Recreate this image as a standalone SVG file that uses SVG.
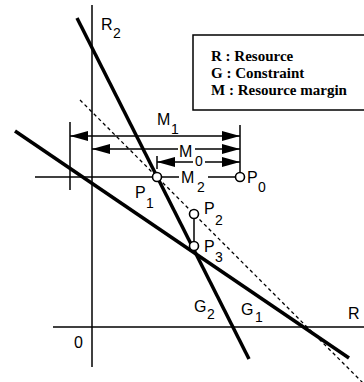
<svg xmlns="http://www.w3.org/2000/svg" width="364" height="382" viewBox="0 0 364 382">
<style>
.ax{stroke:#000;stroke-width:1.5;fill:none}
.g{stroke:#000;stroke-width:3.5;fill:none;stroke-linecap:butt}
.dash{stroke:#000;stroke-width:1.3;fill:none;stroke-dasharray:3.5 3}
.arr{stroke:#000;stroke-width:1.5;fill:none;marker-start:url(#ah);marker-end:url(#ah)}
.pt{fill:#fff;stroke:#000;stroke-width:1.6}
.lb{font-family:"Liberation Sans",Arial,sans-serif;font-size:16px;fill:#000}
.sb{font-family:"Liberation Sans",Arial,sans-serif;font-size:14px;fill:#000}
.lg{font-family:"Liberation Serif","Times New Roman",serif;font-size:15px;font-weight:bold;fill:#000}
.wb{fill:#fff}
</style>
<defs>
<marker id="ah" viewBox="0 0 18 10" refX="18" refY="5" markerWidth="18" markerHeight="10" markerUnits="userSpaceOnUse" orient="auto-start-reverse">
<path d="M0,0 L18,5 L0,10 Z" fill="#000"/>
</marker>
</defs>
<rect width="364" height="382" fill="#fff"/>
<g id="connectors">
<line class="ax" x1="92" y1="5" x2="92" y2="367"/>
<line class="ax" x1="53" y1="327" x2="364" y2="327"/>
<line class="g" x1="77" y1="18" x2="249" y2="359"/>
<line class="g" x1="15" y1="131" x2="349" y2="358"/>
<line class="dash" x1="80" y1="100" x2="364" y2="384"/>
<line class="ax" x1="70" y1="122" x2="70" y2="190"/>
<line class="ax" x1="240" y1="125" x2="240" y2="173"/>
<line class="ax" x1="35" y1="177" x2="237" y2="177"/>
<line class="ax" x1="157" y1="156" x2="157" y2="169"/>
<line class="arr" x1="70" y1="136" x2="240" y2="136"/>
<line class="arr" x1="92" y1="149" x2="240" y2="149"/>
<line class="arr" x1="157" y1="162" x2="240" y2="162"/>
<line class="ax" x1="194" y1="218" x2="194" y2="242"/>
</g>
<g id="legend">
<rect x="193" y="35" width="175" height="75" fill="#fff" stroke="#000" stroke-width="1.5"/>
<text class="lg" x="211" y="61">R : Resource</text>
<text class="lg" x="211" y="78">G : Constraint</text>
<text class="lg" x="211" y="95">M : Resource margin</text>
</g>
<g id="axis-labels">
<text class="lb" x="101" y="30">R</text><text class="sb" x="113" y="38">2</text>
<text class="lb" x="348" y="319">R</text>
<text class="lb" x="74" y="348">0</text>
</g>
<g id="margin-labels">
<g id="M1"><text class="lb" x="157" y="125">M</text><text class="sb" x="171" y="134">1</text></g>
<g id="M0"><rect class="wb" x="178" y="142" width="17" height="12"/><rect class="wb" x="193" y="155" width="12" height="12"/><text class="lb" x="179" y="157">M</text><text class="sb" x="195" y="166">0</text></g>
<g id="M2"><rect class="wb" x="179" y="172" width="29" height="8"/><text class="lb" x="181" y="183">M</text><text class="sb" x="197" y="192">2</text></g>
</g>
<g id="P0"><circle class="pt" cx="240" cy="177" r="4.5"/><text class="lb" x="247" y="183">P</text><text class="sb" x="258" y="192">0</text></g>
<g id="P1"><circle class="pt" cx="157" cy="177" r="4.5"/><text class="lb" x="135" y="198">P</text><text class="sb" x="146" y="208">1</text></g>
<g id="P2"><circle class="pt" cx="194" cy="214" r="4.5"/><text class="lb" x="204" y="214">P</text><text class="sb" x="215" y="225">2</text></g>
<g id="P3"><circle class="pt" cx="194" cy="246" r="4.5"/><text class="lb" x="204" y="252">P</text><text class="sb" x="215" y="262">3</text></g>
<g id="G2"><text class="lb" x="194" y="312">G</text><text class="sb" x="207" y="319">2</text></g>
<g id="G1"><text class="lb" x="241" y="315">G</text><text class="sb" x="255" y="322">1</text></g>
</svg>
